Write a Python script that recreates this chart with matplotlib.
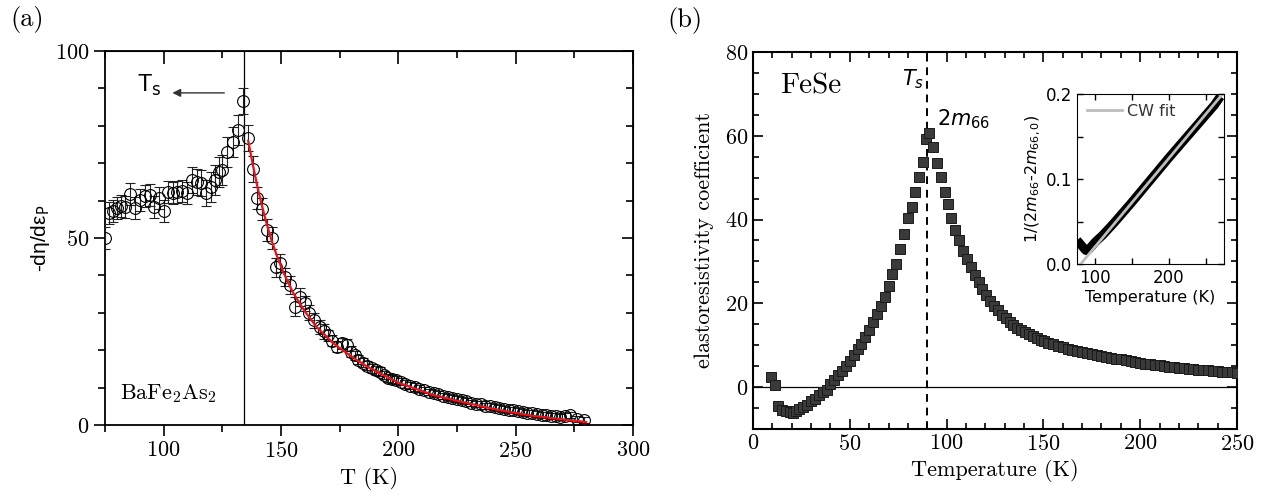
import matplotlib
matplotlib.use('Agg')
import matplotlib.pyplot as plt
from matplotlib.ticker import MultipleLocator

plt.rcParams['mathtext.fontset'] = 'cm'
plt.rcParams['font.family'] = 'cmr10'
plt.rcParams['axes.formatter.use_mathtext'] = True

# ---- panel (a): BaFe2As2 ----
temp_a = [75, 76.5, 78.5, 80, 82, 83.5, 85.6, 87.8, 90, 92, 94, 96, 98, 100,
          102, 104, 105.6, 107.7, 110, 112, 114, 116, 118, 120, 122, 123.5,
          125, 127, 129.5, 131.6, 133.7,
          136, 138, 139.7, 142, 144, 146, 148, 149.5, 151.6, 153.7, 155.8, 158,
          160, 162, 164, 166.5, 168.5, 170, 171.8, 173.7, 176, 178, 179.6,
          181.4, 183, 184.8, 186.7, 188.6, 190.3, 192, 193.7, 195.4, 197.2, 199,
          201, 203, 205, 207, 209, 211, 213, 215, 217, 219, 221, 223, 225, 227,
          229, 231, 233, 235, 237, 239, 241, 243, 245, 247, 249, 251, 253, 255,
          257, 259, 261, 263, 265, 267, 269, 271, 273, 276, 279]
eta_a = [50, 56.7, 57.2, 58, 58.5, 58.3, 61.8, 58, 60.2, 61.2, 61.5, 58.3,
         60.7, 57.2, 62.3, 62, 62.3, 62.6, 62, 65.5, 65, 64.7, 62, 63.6, 65.5,
         67.6, 68.2, 73, 75.7, 78.9, 86.6,
         76.7, 68.4, 60.7, 57.8, 52.1, 50, 42.2, 43.3, 39.6, 37.4, 31.6, 34.2,
         32.6, 30, 28, 26.2, 25, 24, 22.5, 20.9, 21.8, 21.4, 19.6, 18.7, 17.5,
         16.6, 15.8, 15.2, 14.7, 14.2, 13.4, 12.6, 12.3, 12,
         11.6, 11.0, 10.5, 10.1, 9.7, 9.3, 8.9, 8.5, 8.2, 7.8, 7.5, 7.2, 6.9,
         6.6, 6.3, 6.0, 5.7, 5.5, 5.2, 5.0, 4.7, 4.5, 4.3, 4.1, 3.9, 3.7, 3.5,
         3.3, 3.1, 2.9, 2.8, 2.6, 2.5, 2.3, 2.2, 2.4, 2.6, 1.6, 1.3]
err_a = [3, 3, 3, 3, 3, 3, 3, 3, 3, 3, 3, 3, 3, 3,
         3, 3, 3, 3, 3, 3.5, 3.5, 3.5, 3.5, 4, 4, 4,
         4, 4, 4, 4, 3.5,
         3.5, 3.5, 3, 3, 3, 3, 2.5, 2.5, 2.5, 2.5, 2.5, 2.5,
         2, 2, 2, 2, 2, 1.5, 1.5, 1.5, 1.5, 1.5, 1.5, 1.2, 1.2,
         1.2, 1.2, 1.2, 1.2, 1.2, 1, 1, 1, 1,
         1, 1, 1, 1, 1, 0.8, 0.8, 0.8, 0.8, 0.8, 0.8, 0.8, 0.8,
         0.8, 0.8, 0.8, 0.8, 0.8, 0.8, 0.8, 0.8, 0.8, 0.8, 0.8, 0.8, 0.8, 0.8,
         0.8, 0.8, 0.8, 0.8, 0.8, 0.8, 0.8, 0.8, 0.8, 0.8, 0.8, 0.8]
fit_temp_a = [136, 138, 140, 142, 144, 146, 148, 151, 155, 160, 165, 172, 180,
              187, 200, 215, 229, 243, 257, 270, 280]
fit_eta_a = [76, 69.5, 63.5, 58.3, 53.5, 49.3, 45.6, 40.8, 35.5, 30.5, 26.3,
             22.0, 18.3, 15.5, 11.3, 8.0, 5.9, 4.0, 2.5, 1.5, 0.8]
ts_a = 134

# ---- panel (b): FeSe ----
temp_b = [9.4, 11.5, 13, 15, 17, 19, 20.5, 22, 24, 26, 28, 30, 32, 34, 36, 38,
          40, 42, 44, 46, 48, 50, 52, 54, 56, 58, 60, 62, 64, 66, 68, 70, 72,
          74, 76, 78, 80, 82, 83.8, 85.6, 87.6, 89.2, 91, 92.8, 95, 97, 99,
          100.6, 102.5, 104.4, 106.2, 108.5, 110.5, 112.5, 114.5, 116.5, 118.5,
          120.5, 122.5, 124.5, 126.5, 128.5, 130.5, 132.5, 134.5, 136.5, 138.5,
          140.5, 142.5, 144.5, 146.5, 148.5, 150.5, 152.5, 155, 157.5, 160,
          162.5, 165, 167.5, 170, 172.5, 175, 177.5, 180, 182.5, 185, 187.5,
          190, 192.5, 195, 197.5, 200, 202.5, 205, 207.5, 210, 212.5, 215,
          217.5, 220, 222.5, 225, 227.5, 230, 232.5, 235, 237.5, 240, 242.5,
          245, 247.5, 250]
coef_b = [2.4, 0.4, -4.4, -5.4, -5.6, -6.0, -6.2, -5.6, -5.2, -4.8, -4.2, -3.4,
          -2.8, -2.0, -1.2, -0.6, 0.8, 1.6, 2.8, 3.8, 5.0, 6.2, 7.6, 9.0, 10.4,
          12.0, 13.6, 15.6, 17.4, 19.4, 21.6, 24.2, 27.0, 29.5, 33.0, 36.5,
          40.3, 43.0, 46.5, 50.1, 53.7, 59.2, 60.6, 57.3, 53.4, 50.1, 46.5,
          43.7, 40.3, 37.5, 35.0, 32.4, 30.5, 28.6, 26.8, 25.0, 23.4, 22.0,
          20.6, 19.4, 18.3, 17.3, 16.4, 15.6, 14.9, 14.2, 13.6, 13.1, 12.6,
          12.1, 11.7, 11.3, 10.9, 10.6, 10.3, 9.9, 9.5, 9.2, 8.9, 8.6, 8.4, 8.1,
          7.9, 7.6, 7.4, 7.2, 7.0, 6.8, 6.6, 6.4, 6.2, 6.0, 5.8, 5.6, 5.5, 5.3,
          5.2, 5.0, 4.9, 4.8, 4.6, 4.5, 4.4, 4.3, 4.2, 4.1, 4.0, 3.9, 3.8, 3.7,
          3.6, 3.5, 3.4]
ts_b = 90

# inset: 1/(2m66 - 2m66,0)
temp_in = [75, 78, 81, 84, 87, 89, 92, 96, 100, 110, 125, 150, 175, 200, 225,
           250, 262, 270]
inv_in = [0.028, 0.025, 0.022, 0.019, 0.016, 0.016, 0.018, 0.022, 0.026,
          0.034, 0.048, 0.073, 0.099, 0.125, 0.150, 0.175, 0.187, 0.197]
cw_temp = [80, 273]
cw_inv = [0.0, 0.2]

fig = plt.figure(figsize=(12.75, 4.99), dpi=100)

# ---------- (a) ----------
ax = fig.add_axes([0.0824, 0.1483, 0.4141, 0.7495])
ax.errorbar(temp_a, eta_a, yerr=err_a, fmt='o', mfc='none', mec='black',
            ms=8.5, mew=0.8, ecolor='#222222', elinewidth=0.8, capsize=3.5,
            capthick=0.8, zorder=3)
ax.plot(fit_temp_a, fit_eta_a, color='#e8141c', lw=1.6, zorder=4)
ax.axvline(ts_a, color='black', lw=0.9)
ax.set_xlim(75, 300)
ax.set_ylim(0, 100)
ax.xaxis.set_major_locator(MultipleLocator(50))
ax.xaxis.set_minor_locator(MultipleLocator(25))
ax.yaxis.set_major_locator(MultipleLocator(50))
ax.yaxis.set_minor_locator(MultipleLocator(10))
ax.tick_params(which='both', direction='out', top=False, right=False,
               labelsize=16, width=1.2)
ax.tick_params(which='major', length=8)
ax.tick_params(which='minor', length=5)
for s in ax.spines.values():
    s.set_linewidth(1.3)
topx = ax.secondary_xaxis('top')
topx.xaxis.set_major_locator(MultipleLocator(50))
topx.xaxis.set_minor_locator(MultipleLocator(25))
topx.tick_params(which='both', direction='in', labeltop=False, width=1.2)
topx.tick_params(which='major', length=9)
topx.tick_params(which='minor', length=5)
rightx = ax.secondary_yaxis('right')
rightx.yaxis.set_major_locator(MultipleLocator(50))
rightx.yaxis.set_minor_locator(MultipleLocator(10))
rightx.tick_params(which='both', direction='in', labelright=False, width=1.2)
rightx.tick_params(which='major', length=8)
rightx.tick_params(which='minor', length=5)

ax.set_xlabel('T (K)', fontsize=16)
ax.set_ylabel(r'-dη/dε$_\mathrm{P}$', family='Liberation Sans',
              math_fontfamily='dejavusans', fontsize=15, labelpad=2)
ax.text(81.5, 7, r'BaFe$_2$As$_2$', fontsize=16)
ax.text(88.5, 87.5, r'T$_\mathrm{s}$', family='Liberation Sans',
        math_fontfamily='dejavusans', fontsize=17, va='bottom')
ax.annotate('', xy=(102.5, 88.8), xytext=(127, 88.8),
            arrowprops=dict(arrowstyle='-|>', color='#333333', lw=1,
                            mutation_scale=12))

# ---------- (b) ----------
bx = fig.add_axes([0.5906, 0.1403, 0.3796, 0.7555])
bx.plot(temp_b, coef_b, 's', ms=7.3, mfc='#3a3a3a', mec='#1a1a1a', mew=0.7,
        zorder=3)
bx.axhline(0, color='black', lw=0.9)
bx.axvline(ts_b, color='black', lw=1.4, ls=(0, (4, 3)))
bx.set_xlim(0, 250)
bx.set_ylim(-10, 80)
bx.xaxis.set_major_locator(MultipleLocator(50))
bx.xaxis.set_minor_locator(MultipleLocator(10))
bx.yaxis.set_major_locator(MultipleLocator(20))
bx.yaxis.set_minor_locator(MultipleLocator(5))
bx.tick_params(which='both', direction='in', top=True, right=True,
               labelsize=16, width=1.2)
bx.tick_params(which='major', length=7)
bx.tick_params(which='minor', length=4)
for s in bx.spines.values():
    s.set_linewidth(1.5)
bx.set_xlabel('Temperature (K)', fontsize=16)
bx.set_ylabel('elastoresistivity coefficient', fontsize=16, labelpad=8)
bx.text(14, 70, 'FeSe', fontsize=21)
bx.text(77, 72, r'$T_s$', math_fontfamily='dejavusans', fontsize=15)
bx.text(95, 62.5, r'$2m_{66}$', math_fontfamily='dejavusans', fontsize=15)

# ---------- inset ----------
ix = fig.add_axes([0.8447, 0.4709, 0.1153, 0.3407])
ix.plot(temp_in, inv_in, color='black', lw=6.5, solid_capstyle='butt')
ix.plot(cw_temp, cw_inv, color='#bdbdbd', lw=2, label='CW fit')
ix.set_xlim(75, 275)
ix.set_ylim(0, 0.2)
ix.xaxis.set_major_locator(MultipleLocator(100))
ix.xaxis.set_minor_locator(MultipleLocator(50))
ix.yaxis.set_major_locator(MultipleLocator(0.1))
ix.yaxis.set_minor_locator(MultipleLocator(0.05))
ix.tick_params(which='both', direction='in', top=True, right=True, width=1,
               length=4)
ix.set_xticks([100, 200])
ix.set_xticklabels(['100', '200'], family='DejaVu Sans', fontsize=12)
ix.set_yticks([0.0, 0.1, 0.2])
ix.set_yticklabels(['0.0', '0.1', '0.2'], family='DejaVu Sans', fontsize=12)
ix.set_xlabel('Temperature (K)', family='DejaVu Sans', fontsize=11.5,
              labelpad=2)
ix.set_ylabel(r'1/(2$m_{66}$-2$m_{66,0}$)', family='DejaVu Sans',
              math_fontfamily='dejavusans', fontsize=11.5, labelpad=2)
leg = ix.legend(loc='upper left', frameon=False, handlelength=2.2,
                prop={'family': 'DejaVu Sans', 'size': 11.5},
                borderaxespad=0.2, handletextpad=0.3)
for t in leg.get_texts():
    t.set_color('#333333')

fig.text(0.021, 0.96, '(a)', fontsize=19, ha='center', va='center')
fig.text(0.537, 0.958, '(b)', fontsize=19, ha='center', va='center')

fig.savefig('out.png', dpi=100)
